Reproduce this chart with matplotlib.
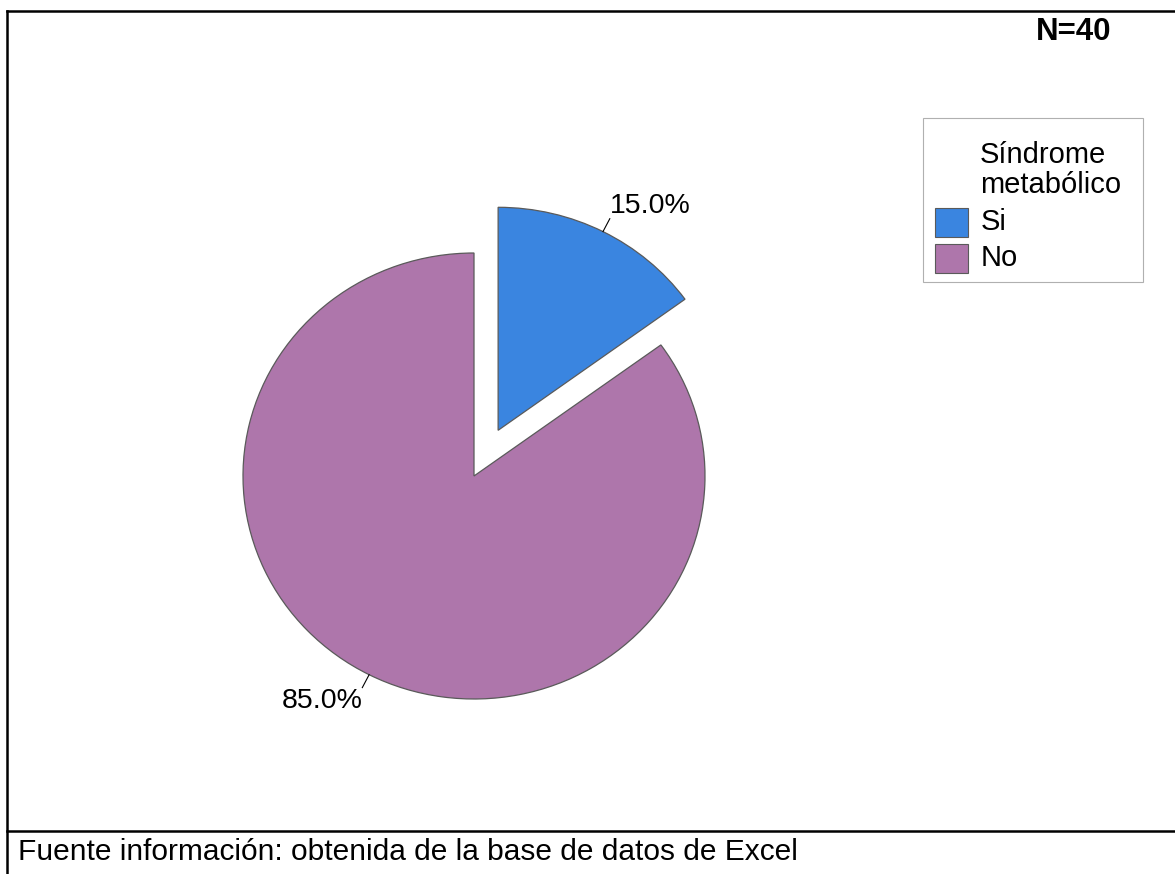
import matplotlib.pyplot as plt
import numpy as np
from matplotlib.lines import Line2D
from matplotlib.patches import Rectangle

plt.rcParams['font.family'] = ['Liberation Sans', 'DejaVu Sans']

# Datos
categorias = ['Si', 'No']
frecuencias = [6, 34]
colores = ['#3A85E0', '#AE76AB']
titulo_leyenda = 'Síndrome\nmetabólico'
n_total = sum(frecuencias)
fuente = 'Fuente información: obtenida de la base de datos de Excel'

W, H = 1175, 874
fig = plt.figure(figsize=(W / 100, H / 100), dpi=100)


def fx(px):
    return px / W


def fy(py):
    return 1 - py / H


# Ejes del pastel (centro y radios en pixeles, ligeramente achatado)
cx, cy, rx, ry = 474, 476, 231, 223
ancho, alto = 2.5 * rx, 2.5 * ry
ax = fig.add_axes([fx(cx - ancho / 2), fy(cy + alto / 2), ancho / W, alto / H])
wedges, _ = ax.pie(frecuencias, colors=colores, startangle=90, counterclock=False,
                   explode=[0.23, 0], wedgeprops=dict(edgecolor='#5a5a5a', linewidth=0.9))
ax.set_aspect('auto')
ax.set_xlim(-1.25, 1.25)
ax.set_ylim(-1.25, 1.25)

# Etiquetas de porcentaje con línea guía
for w, v in zip(wedges, frecuencias):
    ang = np.deg2rad((w.theta1 + w.theta2) / 2)
    c = np.array(w.center)
    d = np.array([np.cos(ang), np.sin(ang)])
    p0 = c + w.r * d
    p1 = c + 1.065 * w.r * d
    ax.plot([p0[0], p1[0]], [p0[1], p1[1]], color='black', lw=0.8)
    ha = 'left' if d[0] > 0 else 'right'
    va = 'bottom' if d[1] > 0 else 'top'
    ax.text(p1[0], p1[1], f'{v / n_total * 100:.1f}%', ha=ha, va=va, fontsize=20.5)

# Marco y separador del pie de figura
for x0, y0, x1, y1 in [(7, 11, W + 5, 11), (7, 11, 7, H + 5), (7, 831, W + 5, 831)]:
    fig.add_artist(Line2D([fx(x0), fx(x1)], [fy(y0), fy(y1)], color='black', lw=1.8))

fig.text(fx(1111), fy(32), f'N={n_total}', ha='right', va='center',
         fontsize=22.5, fontweight='bold')

# Leyenda
fig.add_artist(Rectangle((fx(923), fy(282)), (1143 - 923) / W, (282 - 118) / H,
                         transform=fig.transFigure, facecolor='white',
                         edgecolor='#b0b0b0', lw=0.8))
fig.text(fx(980), fy(170), titulo_leyenda, ha='left', va='center', fontsize=21,
         linespacing=1.12)
for i, (cat, col) in enumerate(zip(categorias, colores)):
    yc = 222 + 36 * i
    fig.add_artist(Rectangle((fx(935), fy(yc + 14.5)), 33 / W, 29 / H,
                             transform=fig.transFigure, facecolor=col,
                             edgecolor='#5a5a5a', lw=0.8))
    fig.text(fx(981), fy(yc), cat, ha='left', va='center', fontsize=21)

fig.text(fx(18), fy(852), fuente, ha='left', va='center', fontsize=21.5)

fig.savefig('out.png', dpi=100)
